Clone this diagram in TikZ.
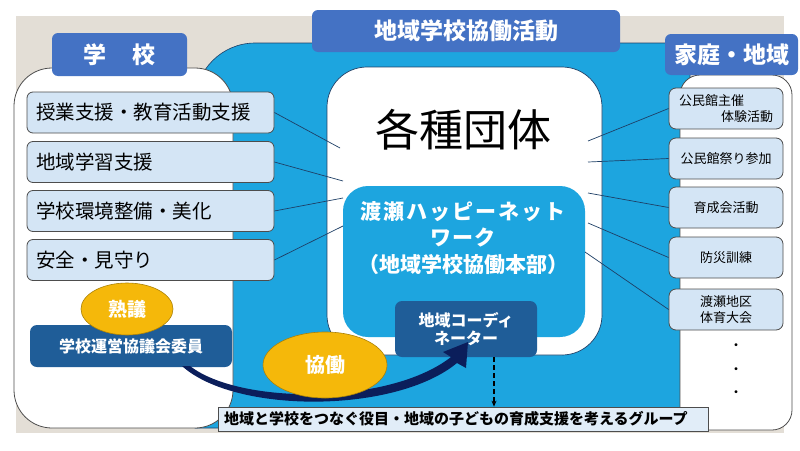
\documentclass[tikz,border=0pt]{standalone}
\usepackage{fontspec}
\newfontfamily\jp{Noto Sans CJK JP}
\usetikzlibrary{arrows.meta,shapes.geometric}
\definecolor{beige}{HTML}{E3DED6}
\definecolor{pblue}{HTML}{1DA5DF}
\definecolor{tabblue}{HTML}{4472C4}
\definecolor{darkbox}{HTML}{1F5D98}
\definecolor{itemfill}{HTML}{D4E5F5}
\definecolor{gold}{HTML}{F5B80A}
\definecolor{navy}{HTML}{0B1E5B}
\definecolor{edge}{HTML}{4D4D4D}
\definecolor{lineblue}{HTML}{1E3F66}
\begin{document}
\begin{tikzpicture}[x=1pt,y=-1pt,
  tabbox/.style={fill=tabblue, rounded corners=6pt, text=white, font=\jp\bfseries\fontsize{23}{26}\selectfont, inner sep=0pt},
  leftitem/.style={draw=edge, line width=0.8pt, fill=itemfill, rounded corners=6pt, minimum width=247pt, minimum height=41pt, text width=229pt, inner xsep=9pt, align=left, font=\jp\fontsize{19.5}{22}\selectfont},
  rightitem/.style={draw=edge, line width=0.8pt, fill=itemfill, rounded corners=7pt, minimum width=114pt, minimum height=41pt, text width=100pt, inner xsep=7pt, align=center, font=\jp\fontsize{13}{16.5}\selectfont},
  darkrole/.style={fill=darkbox, rounded corners=7pt, text=white, font=\jp\bfseries\fontsize{16}{18}\selectfont, inner sep=0pt, align=center},
  goldell/.style={ellipse, fill=gold, draw=gold!70!black, line width=0.6pt, text=white, font=\jp\bfseries\fontsize{19}{22}\selectfont, inner sep=0pt},
  conn/.style={draw=lineblue, line width=0.7pt},
  dotmark/.style={font=\jp\fontsize{14}{14}\selectfont, inner sep=0pt}
]
\useasboundingbox (0,0) rectangle (800,450);
\fill[white] (0,0) rectangle (800,450);
\fill[beige] (16,16) rectangle (784,433);
% blue panel
\filldraw[fill=pblue, draw=lineblue, line width=0.6pt]
  (195,428) -- (195,103) .. controls (195,70) and (222,43) .. (255,43) -- (690,43) -- (690,428) -- cycle;
% school panel
\filldraw[fill=white, draw=edge, line width=0.8pt, rounded corners=38pt] (14,68) rectangle (233,428);
% family panel
\filldraw[fill=white, draw=edge, line width=0.8pt, rounded corners=20pt] (680,75) rectangle (792,430);
% tabs
\node[tabbox, minimum width=135pt, minimum height=43pt] (tschool) at (119.5,54.5) {学\hspace{1.1em}校};
\node[tabbox, minimum width=308pt, minimum height=42pt] (tmain) at (466,31) {地域学校協働活動};
\node[tabbox, minimum width=133pt, minimum height=41pt] (tfam) at (731.5,54.5) {家庭・地域};
% central white box
\filldraw[fill=white, draw=lineblue, line width=0.7pt, rounded corners=40pt] (327,67) rectangle (602,355);
\node[font=\jp\fontsize{44}{48}\selectfont, inner sep=0pt] (kakushu) at (463,130) {各種団体};
% inner network box
\fill[pblue, rounded corners=25pt] (343,186) rectangle (585,337);
\node[text=white, font=\jp\bfseries\fontsize{21}{26.5}\selectfont, align=center, inner sep=0pt] (net) at (463,238)
  {渡\kern2pt 瀬\kern2pt ハ\kern2pt ッ\kern2pt ピ\kern2pt ー\kern2pt ネ\kern2pt ッ\kern2pt ト\\ワ\kern1pt ー\kern1pt ク\\（地域学校協働本部）};
% left items
\node[leftitem] (lb1) at (150.5,112.5) {授業支援・教育活動支援};
\node[leftitem] (lb2) at (150.5,162) {地域学習支援};
\node[leftitem] (lb3) at (150.5,211) {学校環境整備・美化};
\node[leftitem] (lb4) at (150.5,260) {安全・見守り};
% right items
\node[rightitem, text width=94pt, inner xsep=9pt, align=left] (rb1) at (726,108.5) {公民館主催\\\hspace*{\fill}体験活動\hspace*{4pt}};
\node[rightitem] (rb2) at (726,158.5) {公民館祭り参加};
\node[rightitem] (rb3) at (726,207.5) {育成会活動};
\node[rightitem] (rb4) at (726,257.5) {防災訓練};
\node[rightitem] (rb5) at (726,309.5) {渡瀬地区\\体育大会};
\node[dotmark] (d1) at (736,347) {・};
\node[dotmark] (d2) at (736,371) {・};
\node[dotmark] (d3) at (736,394) {・};
% connector end points in the central box
\coordinate (cl1) at (340,148);
\coordinate (cl2) at (343,181);
\coordinate (cl3) at (343,198);
\coordinate (cl4) at (343,226);
\coordinate (cr1) at (588,141);
\coordinate (cr2) at (588,162);
\coordinate (cr3) at (588,193);
\coordinate (cr4) at (588,223);
\coordinate (cr5) at (585,252);
\draw[conn] (lb1.east) -- (cl1);
\draw[conn] (lb2.east) -- (cl2);
\draw[conn] (lb3.east) -- (cl3);
\draw[conn] (lb4.east) -- (cl4);
\draw[conn] (rb1.west) -- (cr1);
\draw[conn] (rb2.west) -- (cr2);
\draw[conn] (rb3.west) -- (cr3);
\draw[conn] (rb4.west) -- (cr4);
\draw[conn] (rb5.west) -- (cr5);
% coordinator
\node[darkrole, minimum width=142pt, minimum height=56pt] (cd) at (466,329) {地域コーディ\\ネーター};
% school council
\node[darkrole, minimum width=202pt, minimum height=42pt] (council) at (131,346) {学校運営協議会委員};
% big curved arrow
\fill[navy] (182,366) .. controls (235,414) and (395,414) .. (457,363) -- (466,368) -- (468,342) -- (443,352) -- (451,357)
  .. controls (390,405) and (240,405) .. (190,366) -- cycle;
% ellipses
\node[goldell, minimum width=92pt, minimum height=52pt] (jukugi) at (127,309) {熟議};
\node[goldell, minimum width=124pt, minimum height=66pt, font=\jp\bfseries\fontsize{20}{22}\selectfont] (kyodo) at (325,365) {協働};
% caption
\node[draw=edge, line width=0.8pt, fill=itemfill!70!white, minimum width=490pt, minimum height=24pt, text width=478pt, inner xsep=6pt, inner ysep=0pt, align=left,
  font=\jp\bfseries\fontsize{15}{16}\selectfont] (cap) at (463,419) {地域と学校をつなぐ役目・地域の子どもの育成支援を考えるグループ};
\draw[dash pattern=on 5pt off 3pt, line width=1.3pt, -{Stealth[length=6pt,width=5pt]}] ([xshift=28pt]cd.south) -- ([xshift=28pt]cd.south |- cap.north);
\end{tikzpicture}
\end{document}
